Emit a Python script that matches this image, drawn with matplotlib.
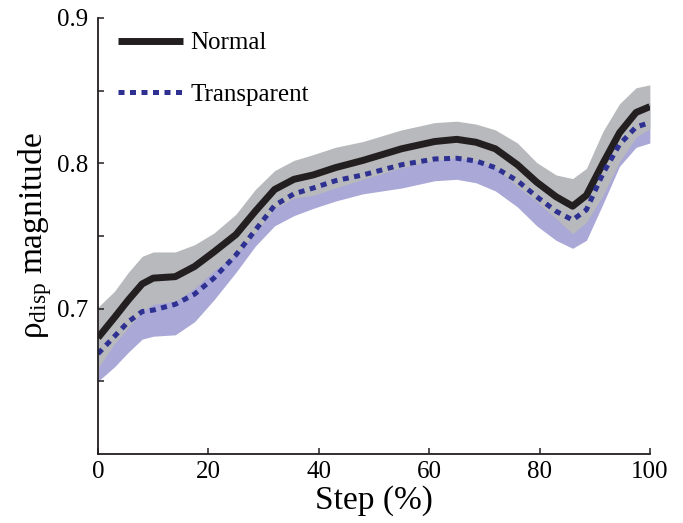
import numpy as np
import matplotlib
matplotlib.use('Agg')
import matplotlib.pyplot as plt

plt.rcParams['font.family'] = ['Liberation Serif', 'DejaVu Serif']
plt.rcParams['mathtext.fontset'] = 'custom'
plt.rcParams['mathtext.rm'] = 'Liberation Serif'
plt.rcParams['mathtext.it'] = 'Liberation Serif'

step = [0, 3, 5.5, 8, 10, 14, 17.5, 21, 25, 28.5, 32, 35.5, 39, 43, 48,
        55, 61, 65, 68.5, 72, 76, 79.5, 83, 86, 88.5, 91.5, 94.5, 97.5, 100]

normal_mean = [0.680, 0.694, 0.706, 0.717, 0.721, 0.722, 0.729, 0.739, 0.751,
               0.767, 0.782, 0.789, 0.792, 0.797, 0.802, 0.810, 0.815, 0.8165,
               0.8145, 0.810, 0.799, 0.787, 0.777, 0.7705, 0.778, 0.800, 0.821,
               0.835, 0.839]
normal_sd = [0.021, 0.018, 0.019, 0.019, 0.018, 0.017, 0.015, 0.013, 0.014,
             0.015, 0.013, 0.013, 0.014, 0.014, 0.013, 0.013, 0.013, 0.0125,
             0.0125, 0.013, 0.015, 0.0135, 0.015, 0.019, 0.0185, 0.022, 0.020,
             0.017, 0.015]

transp_mean = [0.669, 0.681, 0.691, 0.698, 0.699, 0.703, 0.710, 0.721, 0.737,
               0.754, 0.771, 0.779, 0.783, 0.788, 0.792, 0.799, 0.803, 0.8035,
               0.8016, 0.797, 0.788, 0.777, 0.767, 0.761, 0.768, 0.793, 0.813,
               0.825, 0.828]
transp_sd = [0.019, 0.021, 0.021, 0.019, 0.018, 0.021, 0.019, 0.015, 0.012,
             0.011, 0.014, 0.015, 0.014, 0.014, 0.013, 0.016, 0.015, 0.0145,
             0.015, 0.016, 0.018, 0.020, 0.020, 0.0195, 0.021, 0.021, 0.015,
             0.014, 0.014]

yticks = [0.65, 0.7, 0.75, 0.8, 0.85, 0.9]
ytick_labels = ['', '0.7', '', '0.8', '', '0.9']
xticks = [0, 20, 40, 60, 80, 100]

x = np.array(step)
nm, ns = np.array(normal_mean), np.array(normal_sd)
tm, ts = np.array(transp_mean), np.array(transp_sd)

fig = plt.figure(figsize=(6.83, 5.23), dpi=100)
ax = fig.add_axes([0.1435, 0.132, 0.808, 0.8336])

ax.fill_between(x, tm - ts, tm + ts, color='#a9a8d6', lw=0)
ax.fill_between(x, nm - ns, nm + ns, color='#b8b9bc', lw=0)
ax.plot(x, nm, color='#231f20', lw=5, label='Normal', solid_capstyle='butt',
        solid_joinstyle='round')
ax.plot(x, tm, color='#2e3192', lw=3.6, dashes=(1.2, 1.1), label='Transparent')

ax.set_xlim(0, 100)
ax.set_ylim(0.6, 0.9)
ax.set_xticks(xticks)
ax.set_yticks(yticks)
ax.set_yticklabels(ytick_labels)
ax.tick_params(direction='in', length=4, width=1.1, labelsize=18, color='#231f20')
ax.tick_params(axis='y', pad=7)
ax.tick_params(axis='x', pad=5)
for s in ['top', 'right']:
    ax.spines[s].set_visible(False)
for s in ['left', 'bottom']:
    ax.spines[s].set_linewidth(1.3)
    ax.spines[s].set_color('#231f20')

ax.set_xlabel('Step (%)', fontsize=24, labelpad=2)
ax.set_ylabel(r'$\mathrm{\rho_{disp}}$ magnitude', fontsize=24, labelpad=2)

ax.legend(loc='upper left', bbox_to_anchor=(0.036, 0.968), frameon=False,
          fontsize=18, handlelength=2.6, handletextpad=0.3, labelspacing=1.15,
          borderpad=0, borderaxespad=0)

fig.savefig('out.png', dpi=100)
